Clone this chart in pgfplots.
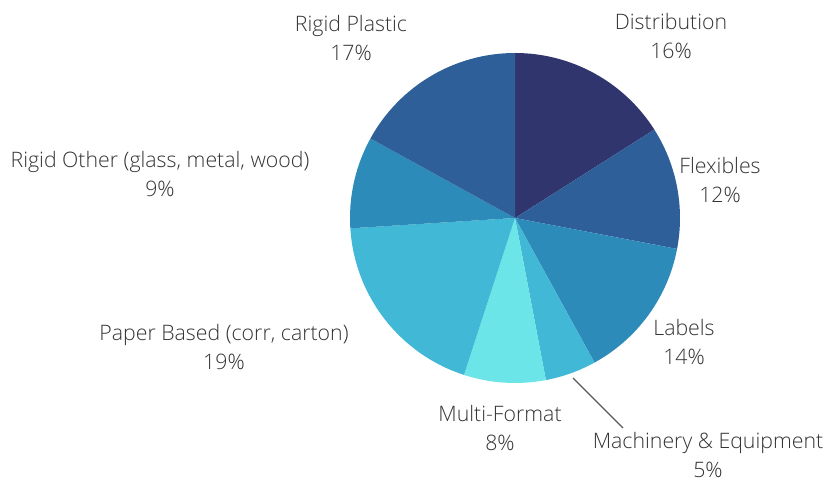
\documentclass[border=0pt]{standalone}
\usepackage{fontspec}
\setmainfont{Open Sans}[UprightFont=* Light]
\usepackage{pgfplots}
\usepackage{pgfplotstable}
\pgfplotsset{compat=1.18}
\definecolor{slice0}{HTML}{31356E}
\definecolor{slice1}{HTML}{2E5F99}
\definecolor{slice2}{HTML}{2D8BBA}
\definecolor{slice3}{HTML}{41B8D5}
\definecolor{slice4}{HTML}{6CE5E8}
\definecolor{slice5}{HTML}{41B8D5}
\definecolor{slice6}{HTML}{2D8BBA}
\definecolor{slice7}{HTML}{2E5F99}
\definecolor{txt}{HTML}{333333}
\pgfplotstableread{
value
16
12
14
5
8
19
9
17
}\piedata
\begin{document}
\begin{tikzpicture}
\useasboundingbox (0,0) rectangle (840pt,481pt);
\begin{axis}[at={(0,0)},anchor=south west,scale only axis,width=840pt,height=481pt,
  xmin=0,xmax=840,ymin=0,ymax=481,hide axis,clip=false]
\pgfmathsetmacro\cum{90}
\pgfplotsforeachungrouped \i in {0,...,7}{%
  \pgfplotstablegetelem{\i}{value}\of\piedata
  \pgfmathsetmacro\a{\cum}%
  \pgfmathsetmacro\b{\cum-3.6*\pgfplotsretval}%
  \pgfmathsetmacro\sx{515+165*cos(\a)}%
  \pgfmathsetmacro\sy{263+165*sin(\a)}%
  \edef\temp{\noexpand\fill[slice\i] (axis cs:515,263) -- (axis cs:\sx,\sy) arc[start angle=\a, end angle=\b, radius=165pt] -- cycle;}%
  \temp
  \global\let\cum\b
}
\draw[color=black!65, line width=1.1pt] (axis cs:573,103) -- (axis cs:623,53);
\tikzset{lab/.style={align=center,text=txt,font=\fontsize{21.3}{29}\selectfont,inner sep=0pt}}
\node[lab] at (axis cs:671,445) {Distribution\\16\%};
\node[lab] at (axis cs:720,301) {Flexibles\\12\%};
\node[lab] at (axis cs:684,138.5) {Labels\\14\%};
\node[lab] at (axis cs:708,26) {Machinery \& Equipment\\5\%};
\node[lab] at (axis cs:500,53) {Multi-Format\\8\%};
\node[lab] at (axis cs:224,133.5) {Paper Based (corr, carton)\\19\%};
\node[lab] at (axis cs:160,307) {Rigid Other (glass, metal, wood)\\9\%};
\node[lab] at (axis cs:351,442.5) {Rigid Plastic\\17\%};
\end{axis}
\end{tikzpicture}
\end{document}
